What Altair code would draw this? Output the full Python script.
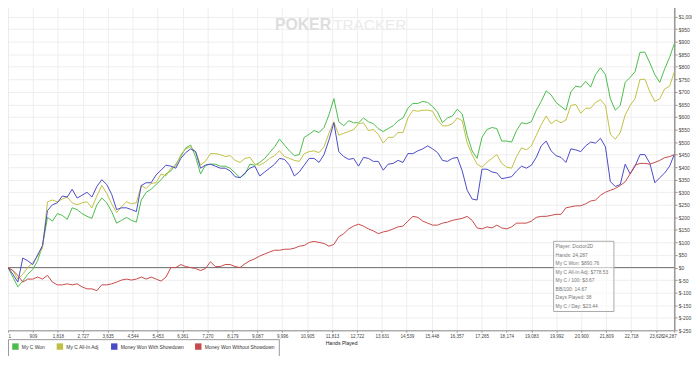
import altair as alt
import pandas as pd

# ---------------- data ----------------
hands = [1, 180, 360, 540, 720, 900, 1080, 1260, 1440, 1620,
         1800, 1980, 2160, 2340, 2520, 2700, 2880, 3060, 3240, 3420,
         3600, 3780, 3960, 4140, 4320, 4500, 4680, 4860, 5040, 5220,
         5400, 5580, 5760, 5940, 6120, 6300, 6480, 6660, 6840, 7020,
         7200, 7380, 7560, 7740, 7920, 8100, 8280, 8460, 8640, 8820,
         9000, 9180, 9360, 9540, 9720, 9900, 10080, 10260, 10440, 10620,
         10800, 10980, 11160, 11340, 11520, 11700, 11880, 12060, 12240, 12420,
         12600, 12780, 12960, 13140, 13320, 13500, 13680, 13860, 14040, 14220,
         14400, 14580, 14760, 14940, 15120, 15300, 15480, 15660, 15840, 16020,
         16200, 16380, 16560, 16740, 16920, 17100, 17280, 17460, 17640, 17820,
         18000, 18180, 18360, 18540, 18720, 18900, 19080, 19260, 19440, 19620,
         19800, 19980, 20160, 20340, 20520, 20700, 20880, 21060, 21240, 21420,
         21600, 21780, 21960, 22140, 22320, 22500, 22680, 22860, 23040, 23220,
         23400, 23580, 23760, 23940, 24120, 24287]

my_c_won = [0, -38, -77, -54, -27, -8, 27, 88, 200, 185,
            215, 208, 192, 238, 231, 215, 204, 196, 250, 277,
            258, 223, 177, 188, 200, 188, 181, 269, 300, 312,
            331, 350, 373, 385, 412, 442, 477, 488, 442, 373,
            408, 412, 412, 404, 404, 396, 377, 358, 373, 412,
            408, 419, 435, 458, 481, 512, 488, 465, 446, 450,
            519, 531, 546, 538, 558, 608, 673, 581, 565, 585,
            577, 577, 596, 581, 573, 554, 542, 554, 565, 585,
            596, 635, 654, 654, 662, 658, 642, 619, 577, 596,
            604, 631, 612, 527, 465, 435, 519, 550, 558, 554,
            504, 504, 500, 546, 577, 573, 581, 627, 662, 704,
            688, 658, 642, 627, 700, 723, 719, 742, 719, 769,
            796, 769, 673, 627, 646, 738, 758, 781, 858, 858,
            815, 769, 738, 792, 838, 891]

my_c_allin_adj = [0, -12, -46, -27, 0, 19, 46, 77, 262, 269,
                  262, 273, 281, 258, 250, 258, 262, 238, 285, 327,
                  296, 254, 219, 242, 262, 254, 258, 327, 315, 335,
                  338, 373, 365, 396, 404, 450, 473, 481, 462, 408,
                  423, 454, 454, 450, 442, 446, 427, 419, 435, 439,
                  412, 408, 419, 435, 446, 465, 442, 435, 427, 423,
                  454, 462, 465, 458, 481, 535, 581, 527, 535, 542,
                  550, 573, 577, 546, 550, 531, 496, 519, 519, 538,
                  538, 596, 627, 623, 627, 627, 623, 588, 565, 565,
                  573, 596, 585, 496, 450, 412, 400, 419, 435, 450,
                  415, 400, 396, 442, 477, 469, 485, 527, 569, 604,
                  573, 588, 577, 588, 646, 650, 615, 635, 635, 658,
                  669, 646, 531, 512, 538, 608, 646, 673, 750, 750,
                  700, 662, 673, 712, 723, 779]

won_with_showdown = [0, -27, -58, 38, 27, 12, 50, 88, 227, 250,
                     258, 285, 281, 312, 277, 288, 300, 281, 323, 350,
                     331, 292, 231, 238, 238, 231, 223, 327, 338, 338,
                     369, 388, 408, 404, 396, 435, 458, 473, 462, 396,
                     408, 412, 404, 396, 396, 385, 362, 358, 377, 396,
                     404, 365, 381, 396, 412, 435, 431, 408, 365, 381,
                     408, 435, 435, 419, 450, 508, 577, 462, 442, 431,
                     435, 404, 439, 435, 423, 423, 388, 412, 415, 427,
                     419, 454, 454, 465, 473, 485, 473, 458, 427, 423,
                     435, 439, 385, 308, 273, 269, 392, 392, 381, 377,
                     354, 358, 362, 385, 404, 396, 408, 439, 485, 504,
                     465, 446, 439, 419, 473, 469, 462, 485, 500, 496,
                     515, 481, 342, 323, 331, 412, 373, 404, 450, 450,
                     415, 338, 358, 377, 404, 450]

won_without_showdown = [0, -12, -31, -58, -46, -46, -38, -46, -31, -58,
                        -69, -69, -65, -69, -65, -77, -85, -85, -92, -69,
                        -69, -65, -58, -50, -46, -50, -46, -38, -46, -38,
                        -46, -54, -38, 0, 0, 12, 4, 0, -4, -12,
                        -4, 23, 4, 4, 12, 12, 4, 0, 15, 27,
                        35, 46, 54, 62, 69, 69, 73, 73, 77, 85,
                        88, 100, 104, 100, 96, 85, 92, 123, 135, 154,
                        165, 173, 165, 154, 146, 135, 142, 146, 154, 162,
                        165, 185, 204, 200, 185, 177, 169, 169, 177, 181,
                        188, 192, 196, 204, 188, 158, 154, 162, 158, 169,
                        158, 154, 162, 177, 177, 177, 185, 200, 204, 204,
                        208, 212, 212, 238, 242, 246, 246, 254, 265, 269,
                        288, 300, 308, 315, 327, 342, 373, 408, 415, 415,
                        412, 419, 427, 438, 442, 450]

series_names = ["My C Won", "My C All-In Adj", "Money Won With Showdown",
                "Money Won Without Showdown"]
series_values = [my_c_won, my_c_allin_adj, won_with_showdown, won_without_showdown]

x_tick_values = [1, 909, 1818, 2727, 3635, 4544, 5453, 6361, 7270, 8179,
                 9087, 9996, 10905, 11813, 12722, 13631, 14539, 15448, 16357,
                 17265, 18174, 19083, 19992, 20900, 21809, 22718, 23626, 24287]
y_tick_values = list(range(-250, 1051, 50))

info_lines = ["Player: Doctor2D", "Hands: 24,287", "My C Won: $890.76",
              "My C All-In Adj: $778.53", "My C / 100: $3.67", "BB/100: 14.67",
              "Days Played: 38", "My C / Day: $23.44"]

# ---------------- styling ----------------
series_colors = ["#4cbc4c", "#c0c044", "#4a4ac6", "#c64a4a"]
FONT = "Liberation Sans"
W, H = 674, 330

rows = []
for name, vals in zip(series_names, series_values):
    for h, v in zip(hands, vals):
        rows.append({"Hands": h, "Amount": v, "Series": name})
df = pd.DataFrame(rows)

x_scale = alt.Scale(domain=[1, 24287], nice=False, zero=False)
y_scale = alt.Scale(domain=[-250, 1050], nice=False, zero=False)

y_label_expr = ("datum.value < 0 ? '$-' + format(-datum.value, ',') "
                ": '$' + format(datum.value, ',')")

x_axis = alt.Axis(values=x_tick_values, labelExpr="format(datum.value, ',')",
                  title="Hands Played", labelFontSize=4.6, labelFont=FONT,
                  labelColor="#444", tickSize=2, tickColor="#999", domainColor="#999",
                  grid=True, gridColor="#eeeeee", labelPadding=1.5,
                  labelOverlap=False, labelFlush=True,
                  labelOffset={"condition": {"test": "datum.value == 24287", "value": 2},
                               "value": 0},
                  titleFontSize=5.2, titleFont=FONT, titleFontWeight="normal",
                  titleColor="#222", titlePadding=2)
y_axis = alt.Axis(orient="right", values=y_tick_values, labelExpr=y_label_expr,
                  title=None, labelFontSize=5, labelFont=FONT,
                  labelColor="#444", tickSize=3, tickColor="#999",
                  domainColor="#999", domainWidth=1.5, grid=True,
                  gridColor="#eeeeee", labelPadding=1, labelOverlap=False,
                  labelFlush=False)

lines = alt.Chart(df).mark_line(strokeWidth=1).encode(
    x=alt.X("Hands:Q", scale=x_scale, axis=x_axis),
    y=alt.Y("Amount:Q", scale=y_scale, axis=y_axis),
    color=alt.Color("Series:N", sort=series_names,
                    scale=alt.Scale(domain=series_names, range=series_colors),
                    legend=alt.Legend(title=None, orient="none", legendX=0, legendY=339,
                                      direction="horizontal", symbolType="square",
                                      symbolSize=9, symbolStrokeWidth=3.5,
                                      labelFontSize=5, labelFont=FONT,
                                      labelColor="#333", strokeColor="#999",
                                      fillColor="white", padding=4,
                                      columnPadding=6, labelOffset=3)),
)

zero_line = alt.Chart(pd.DataFrame({"Amount": [0]})).mark_rule(
    color="#777777", strokeWidth=1).encode(
    y=alt.Y("Amount:Q", scale=y_scale, axis=y_axis))

one = pd.DataFrame({"a": [0]})

info_box = alt.Chart(one).mark_rect(
    fill="white", fillOpacity=0.6, stroke="#aaaaaa", strokeWidth=1).encode(
    x=alt.value(552), x2=alt.value(613), y=alt.value(240), y2=alt.value(311))

info_text = alt.Chart(one).mark_text(
    text=info_lines, align="left", baseline="top", fontSize=5, lineHeight=8.6,
    font=FONT, color="#777777").encode(x=alt.value(554), y=alt.value(243))

wm_poker = alt.Chart(one).mark_text(
    text="POKER", align="left", baseline="alphabetic", fontSize=16,
    fontWeight="bold", font=FONT, color="#dddddd").encode(
    x=alt.value(270), y=alt.value(26))

wm_tracker = alt.Chart(one).mark_text(
    text="TRACKER", align="left", baseline="alphabetic", fontSize=15.5,
    font=FONT, color="#ebebeb").encode(
    x=alt.value(329), y=alt.value(26))

chart = alt.layer(wm_poker, wm_tracker, zero_line, lines, info_box, info_text).properties(
    width=W, height=H,
    padding={"left": 0, "top": -6, "right": 18, "bottom": 24},
    autosize=alt.AutoSizeParams(type="none"),
    background="white",
).configure_view(stroke="#aaaaaa", strokeWidth=1)

chart.save("out.html", embed_options={"renderer": "svg", "actions": False})
